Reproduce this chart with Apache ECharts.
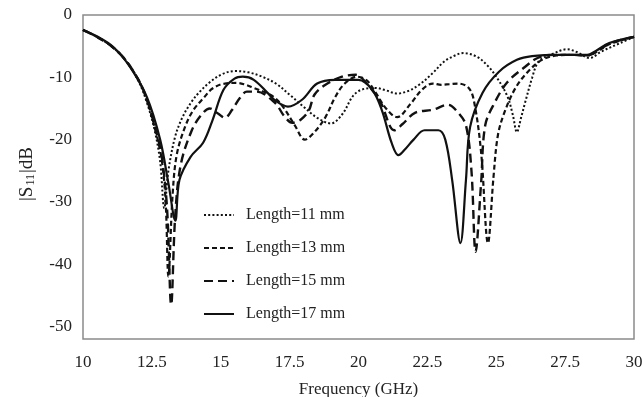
<!DOCTYPE html>
<html>
<head>
<meta charset="utf-8">
<script src="https://cdn.jsdelivr.net/npm/echarts@6/dist/echarts.min.js"></script>
<style>html,body{margin:0;padding:0;background:#fff}#c{width:642px;height:397px}</style>
</head>
<body>
<div id="c"></div>
<script>
var seriesNames = ['Length=11 mm', 'Length=13 mm', 'Length=15 mm', 'Length=17 mm'];
var xTicks = [10, 12.5, 15, 17.5, 20, 22.5, 25, 27.5, 30];
var yTicks = [0, -10, -20, -30, -40, -50];

var x11 = [10, 10.5, 11, 11.5, 12, 12.3, 12.6, 12.8, 12.95, 13.1, 13.34, 13.6, 13.9, 14.2, 14.6, 15.05, 15.5, 16.0, 16.5, 17.0, 17.5, 18.0, 18.5, 19.0, 19.4, 19.8, 20.1, 20.6, 21.0, 21.4, 21.8, 22.2, 22.7, 23.1, 23.5, 23.8, 24.3, 24.7, 25.0, 25.4, 25.6, 25.75, 25.9, 26.05, 26.3, 26.5, 26.77, 27.0, 27.57, 27.9, 28.4, 28.8, 29.5, 30];
var y11 = [-2.4, -3.5, -4.9, -7.0, -10.5, -13.8, -18.5, -23.5, -31, -25, -19.6, -16.5, -14.2, -12.5, -10.8, -9.5, -9.0, -9.2, -9.9, -11, -12.8, -14.7, -16.5, -17.4, -16, -13, -12, -11.7, -12.1, -12.6, -12.2, -11.2, -9.3, -7.5, -6.5, -6.1, -6.7, -8.2, -9.9, -13, -16, -18.8, -16.5, -14, -10.1, -7.7, -6.7, -6.3, -5.5, -5.9, -6.9, -5.9, -4.5, -3.5];

var x13 = [10, 10.5, 11, 11.5, 12, 12.3, 12.6, 12.85, 13.0, 13.1, 13.25, 13.4, 13.7, 14.0, 14.4, 14.7, 15.15, 15.6, 15.9, 16.2, 16.6, 16.97, 17.3, 17.7, 18.05, 18.4, 18.8, 19.15, 19.5, 19.95, 20.3, 20.6, 21.0, 21.4, 21.9, 22.3, 22.7, 23.0, 23.3, 23.6, 24.0, 24.2, 24.45, 24.7, 24.9, 25.06, 25.3, 25.7, 26.15, 26.66, 27.2, 27.8, 28.3, 28.6, 29.1, 30];
var y13 = [-2.4, -3.5, -4.9, -7.0, -10.3, -13.4, -18, -23, -30, -42, -29, -22.5, -18, -15.3, -13.2, -11.8, -11, -10.9, -11.2, -11.7, -12.4, -13.3, -15, -17.8, -20, -18.8, -16.4, -13.2, -11, -9.9, -10.5, -12.3, -15, -16.4, -14.2, -12, -11, -11.2, -11.1, -11, -11.7, -14, -22, -36.6, -26, -19.3, -15.6, -11.7, -9.1, -7.2, -6.5, -6.4, -6.5, -6.0, -4.7, -3.5];

var x15 = [10, 10.5, 11, 11.5, 12, 12.3, 12.6, 12.85, 13.05, 13.2, 13.35, 13.55, 13.95, 14.3, 14.6, 14.9, 15.15, 15.4, 15.7, 15.95, 16.3, 16.97, 17.3, 17.6, 17.9, 18.2, 18.4, 18.8, 19.4, 19.9, 20.3, 20.8, 21.3, 21.6, 22.05, 22.7, 23.25, 23.6, 23.9, 24.1, 24.25, 24.45, 24.6, 24.95, 25.4, 26.05, 26.5, 27.0, 27.8, 28.3, 28.6, 29.1, 30];
var y15 = [-2.4, -3.5, -4.9, -7.0, -10.3, -13.3, -17.8, -22.5, -31, -46.5, -32, -24, -18.5, -16, -15, -15.8, -16.5, -15.3, -13.3, -12.3, -12.3, -14.1, -16.2, -17.3, -16.8, -15.3, -12.8, -11.2, -9.9, -9.6, -11, -14, -18.5, -17.5, -15.7, -15.2, -14.4, -15.6, -17.7, -25, -38, -27, -17.7, -14, -10.8, -8.3, -6.9, -6.4, -6.4, -6.5, -6.0, -4.6, -3.5];

var x17 = [10, 10.5, 11.09, 11.7, 12.32, 12.8, 13.1, 13.35, 13.5, 13.9, 14.36, 14.7, 15.1, 15.5, 15.8, 16.2, 16.7, 17.0, 17.44, 17.95, 18.5, 19.15, 20.0, 20.5, 20.85, 21.2, 21.45, 21.7, 22.0, 22.4, 22.9, 23.15, 23.4, 23.7, 23.9, 24.05, 24.5, 25.1, 25.75, 26.3, 27.3, 28.3, 28.6, 29.1, 30];
var y17 = [-2.4, -3.4, -5.1, -8.3, -13.2, -20, -27, -33, -26.5, -22.8, -20.5, -16.9, -12, -10.2, -9.9, -10.4, -12.5, -13.8, -14.7, -13.6, -11, -10.4, -10.4, -12, -15.3, -20.5, -22.5, -21.5, -20, -18.5, -18.5, -20, -26.5, -36.6, -26.5, -18, -12.5, -9.1, -7.2, -6.6, -6.4, -6.4, -5.8, -4.5, -3.5];

function zip(xs, ys) { return xs.map(function (x, i) { return [x, ys[i]]; }); }

var FONT = 'Liberation Serif';
var styles = [
  { type: [2, 2.2], width: 2 },
  { type: [5, 3], width: 2.2 },
  { type: [9, 5], width: 2.4 },
  { type: 'solid', width: 2.2 }
];
var datas = [zip(x11, y11), zip(x13, y13), zip(x15, y15), zip(x17, y17)];

var chart = echarts.init(document.getElementById('c'), null, { renderer: 'canvas' });
chart.setOption({
  animation: false,
  backgroundColor: '#fff',
  grid: { left: 83, right: 8, top: 15, bottom: 58, show: true, borderColor: '#8a8a8a', borderWidth: 1.5, backgroundColor: 'transparent', outerBoundsMode: 'none', containLabel: false },
  legend: {
    orient: 'vertical', left: 203, top: 207, padding: 0,
    itemWidth: 30, itemHeight: 14, itemGap: 17,
    itemStyle: { opacity: 0 },
    textStyle: { fontFamily: FONT, fontSize: 16, color: '#222', padding: [0, 0, 0, 7] },
    data: seriesNames
  },
  xAxis: {
    type: 'value', min: 10, max: 30, interval: 2.5,
    axisLine: { show: false }, axisTick: { show: false }, splitLine: { show: false },
    axisLabel: { fontFamily: FONT, fontSize: 17, color: '#222', margin: 15, customValues: xTicks },
    name: 'Frequency (GHz)', nameLocation: 'middle', nameGap: 42,
    nameTextStyle: { fontFamily: FONT, fontSize: 17, color: '#222' }
  },
  yAxis: {
    type: 'value', min: -52, max: 0,
    axisLine: { show: false }, axisTick: { show: false }, splitLine: { show: false },
    axisLabel: { fontFamily: FONT, fontSize: 17, color: '#222', margin: 11, customValues: yTicks },
    name: '|S{sub|11}|dB', nameLocation: 'middle', nameGap: 46, nameRotate: 90,
    nameTextStyle: { fontFamily: FONT, fontSize: 19, color: '#222', padding: [0, 0, 0, 6],
      rich: { sub: { fontFamily: FONT, fontSize: 12, color: '#222', padding: [7, 1, 0, 1] } } }
  },
  series: datas.map(function (d, i) {
    return {
      name: seriesNames[i], type: 'line', data: d, symbol: 'none', smooth: 0.35,
      lineStyle: { color: '#111', width: styles[i].width, type: styles[i].type },
      itemStyle: { color: '#111' }
    };
  })
});
</script>
</body>
</html>
